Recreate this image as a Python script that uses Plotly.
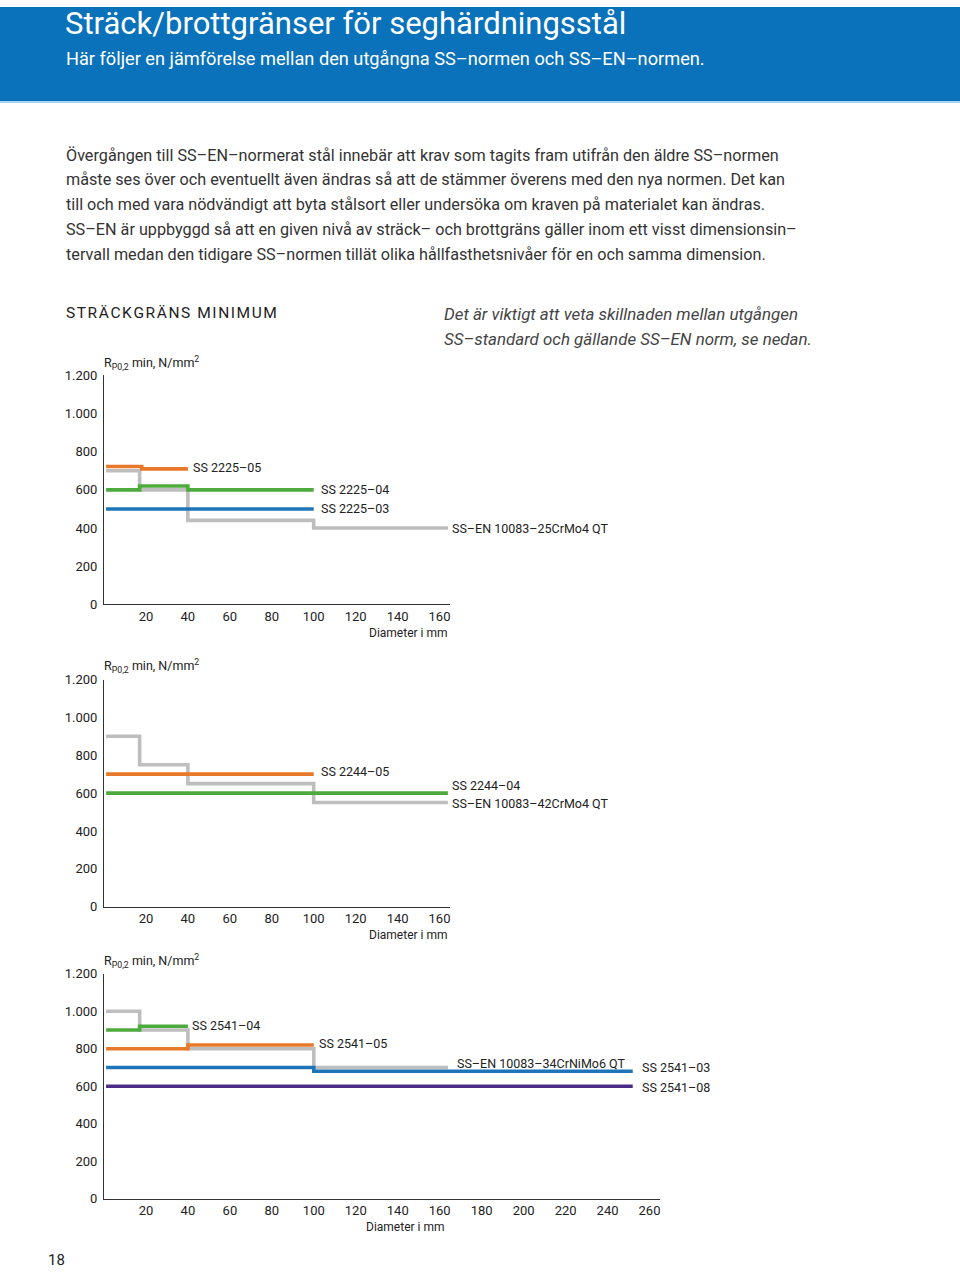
import plotly.graph_objects as go

W, H = 960, 1275
FONT = "Roboto"
# observed page placement: rendered_y = Y_OFF + Y_SCALE * figure_y
Y_OFF, Y_SCALE = 8.0, 0.9875

# ---------------- data ----------------
y_tickvals = [0, 200, 400, 600, 800, 1000, 1200]
y_ticktext = ["0", "200", "400", "600", "800", "1.000", "1.200"]
x_ticks_small = [20, 40, 60, 80, 100, 120, 140, 160]
x_ticks_large = [20, 40, 60, 80, 100, 120, 140, 160, 180, 200, 220, 240, 260]

# Chart 1 (SS 2225 / 25CrMo4) : step edges (x) and level per segment (y)
c1_gray_x = [1, 17, 40, 100, 164]
c1_gray_y = [700, 600, 440, 400]
c1_blue_x = [1, 100]
c1_blue_y = [500]
c1_green_x = [1, 17, 40, 100]
c1_green_y = [600, 620, 600]
c1_orange_x = [1, 18, 40]
c1_orange_y = [722, 710]

# Chart 2 (SS 2244 / 42CrMo4)
c2_gray_x = [1, 17, 40, 100, 164]
c2_gray_y = [900, 750, 650, 550]
c2_orange_x = [1, 100]
c2_orange_y = [700]
c2_green_x = [1, 164]
c2_green_y = [600]

# Chart 3 (SS 2541 / 34CrNiMo6)
c3_gray_x = [1, 17, 40, 100, 164]
c3_gray_y = [1000, 900, 800, 700]
c3_green_x = [1, 17, 40]
c3_green_y = [900, 920]
c3_orange_x = [1, 40, 100]
c3_orange_y = [800, 820]
c3_blue_x = [1, 100, 252]
c3_blue_y = [700, 680]
c3_purple_x = [1, 252]
c3_purple_y = [600]

C_GRAY = "#BEBEBE"
C_BLUE = "#1F73B7"
C_GREEN = "#4DAA3C"
C_ORANGE = "#E8782A"
C_PURPLE = "#4A2C86"
C_TEXT = "#222222"


def px(x):
    return x / W


def py(y):
    fy = (y - Y_OFF) / Y_SCALE
    return 1 - fy / H


fig = go.Figure()


def step(xs, ys, color, axis):
    fig.add_trace(go.Scatter(
        x=xs, y=list(ys) + [ys[-1]], mode="lines", line_shape="hv",
        line=dict(color=color, width=3.6), hoverinfo="skip", showlegend=False,
        xaxis="x" + axis, yaxis="y" + axis, cliponaxis=False))


step(c1_gray_x, c1_gray_y, C_GRAY, "")
step(c1_blue_x, c1_blue_y, C_BLUE, "")
step(c1_green_x, c1_green_y, C_GREEN, "")
step(c1_orange_x, c1_orange_y, C_ORANGE, "")

step(c2_gray_x, c2_gray_y, C_GRAY, "2")
step(c2_orange_x, c2_orange_y, C_ORANGE, "2")
step(c2_green_x, c2_green_y, C_GREEN, "2")

step(c3_purple_x, c3_purple_y, C_PURPLE, "3")
step(c3_gray_x, c3_gray_y, C_GRAY, "3")
step(c3_blue_x, c3_blue_y, C_BLUE, "3")
step(c3_orange_x, c3_orange_y, C_ORANGE, "3")
step(c3_green_x, c3_green_y, C_GREEN, "3")

# ------------- axes (page pixel geometry) -------------
charts = [
    # (x0px, x1px, xmax, y_top_px, y_bottom_px, xticks)
    (104, 450, 165, 376, 605, x_ticks_small),
    (104, 450, 165, 680, 907, x_ticks_small),
    (104, 660, 265, 974, 1199, x_ticks_large),
]
layout_axes = {}
for i, (x0, x1, xmax, yt, yb, xt) in enumerate(charts):
    suf = "" if i == 0 else str(i + 1)
    layout_axes["xaxis" + suf] = dict(
        domain=[px(x0), px(x1)], range=[0, xmax], anchor="y" + suf,
        showline=True, linecolor="#333333", linewidth=1, showgrid=False,
        zeroline=False, ticks="", tickvals=xt, ticklabelstandoff=0,
        tickfont=dict(family=FONT, size=13, color=C_TEXT), fixedrange=True)
    layout_axes["yaxis" + suf] = dict(
        domain=[py(yb), py(yt)], range=[0, 1200], anchor="x" + suf,
        showline=True, linecolor="#333333", linewidth=1, showgrid=False,
        zeroline=False, ticks="", tickvals=y_tickvals, ticktext=y_ticktext,
        ticklabelstandoff=3,
        tickfont=dict(family=FONT, size=13, color=C_TEXT), fixedrange=True)

annotations = []


def text(x, y, s, size=12.5, color=C_TEXT, xanchor="left", italic=False, family=FONT):
    if italic:
        s = "<i>" + s + "</i>"
    annotations.append(dict(
        x=px(x), y=py(y), xref="paper", yref="paper", text=s, showarrow=False,
        xanchor=xanchor, yanchor="middle",
        font=dict(family=family, size=size, color=color)))


# header
text(63, 24, "Sträck/brottgränser för seghärdningsstål", size=31, color="white")
text(64, 59, "Här följer en jämförelse mellan den utgångna SS–normen och SS–EN–normen.",
     size=18.2, color="white")

body = [
    "Övergången till SS–EN–normerat stål innebär att krav som tagits fram utifrån den äldre SS–normen",
    "måste ses över och eventuellt även ändras så att de stämmer överens med den nya normen. Det kan",
    "till och med vara nödvändigt att byta stålsort eller undersöka om kraven på materialet kan ändras.",
    "SS–EN är uppbyggd så att en given nivå av sträck– och brottgräns gäller inom ett visst dimensionsin–",
    "tervall medan den tidigare SS–normen tillät olika hållfasthetsnivåer för en och samma dimension.",
]
for k, line in enumerate(body):
    text(64, 156 + k * 24.8, line, size=16.2, color="#333333")

heading = "\u200a".join("STRÄCKGRÄNS MINIMUM")
text(64, 314, heading, size=15.5, color="#222222")
text(442, 315, "Det är viktigt att veta skillnaden mellan utgången", size=16.9, color="#444444", italic=True)
text(442, 340, "SS–standard och gällande SS–EN norm, se nedan.", size=16.9, color="#444444", italic=True)

# axis titles
ylab = "R<sub>P0,2</sub> min, N/mm<sup>2</sup>"
for yy in (364, 667, 961):
    text(102, yy, ylab, size=12.5)
text(449, 634, "Diameter i mm", size=12, xanchor="right")
text(449, 935, "Diameter i mm", size=12, xanchor="right")
text(446, 1227, "Diameter i mm", size=12, xanchor="right")

# series labels
text(191, 468, "SS 2225–05")
text(319, 490, "SS 2225–04")
text(319, 509, "SS 2225–03")
text(450, 529, "SS–EN 10083–25CrMo4 QT")

text(319, 772, "SS 2244–05")
text(450, 786, "SS 2244–04")
text(450, 804, "SS–EN 10083–42CrMo4 QT")

text(190, 1026, "SS 2541–04")
text(317, 1044, "SS 2541–05")
text(455, 1064, "SS–EN 10083–34CrNiMo6 QT")
text(640, 1068, "SS 2541–03")
text(640, 1088, "SS 2541–08")

text(46, 1260, "18", size=15, color="#222222")

shapes = [
    dict(type="rect", xref="paper", yref="paper", x0=0, x1=1, y0=py(102), y1=1,
         fillcolor="#0A72BA", line=dict(width=0), layer="below"),
    dict(type="rect", xref="paper", yref="paper", x0=0, x1=1, y0=py(104), y1=py(102),
         fillcolor="#A8D4F4", line=dict(width=0), layer="below"),
]

fig.update_layout(
    width=W, height=H, margin=dict(l=0, r=0, t=0, b=0),
    paper_bgcolor="white", plot_bgcolor="rgba(0,0,0,0)",
    showlegend=False, annotations=annotations, shapes=shapes,
    font=dict(family=FONT, color=C_TEXT),
    **layout_axes)

fig.write_html("out.html", config={"displayModeBar": False})
